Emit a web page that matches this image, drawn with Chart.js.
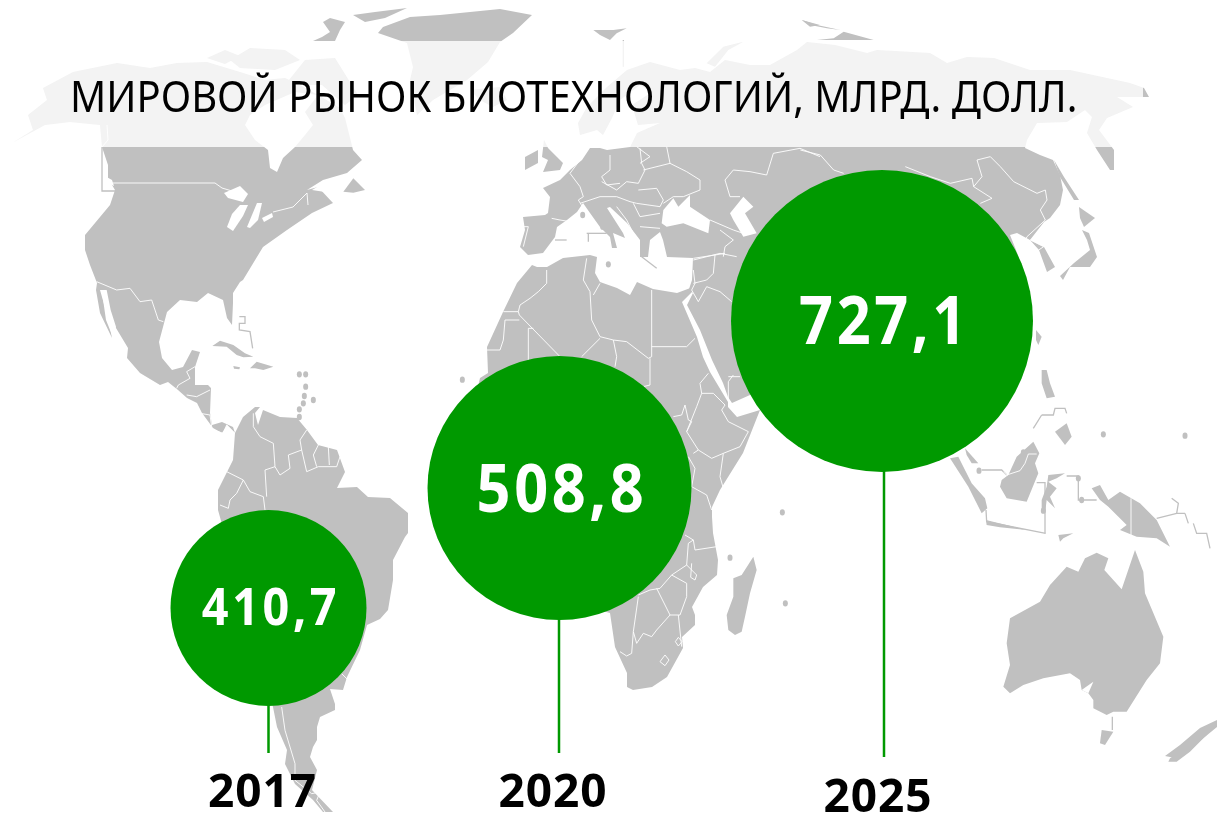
<!DOCTYPE html>
<html>
<head>
<meta charset="utf-8">
<script src="https://cdn.jsdelivr.net/npm/chart.js@4"></script>
<style>
  html, body { margin: 0; padding: 0; background: #fff; overflow: hidden; }
  canvas { display: block; }
</style>
</head>
<body>
<canvas id="chart1" width="1217" height="817"></canvas>
<script>
// chart data
const years = ['2017', '2020', '2025'];
const marketValues = [410.7, 508.8, 727.1];
const titleText = 'МИРОВОЙ РЫНОК БИОТЕХНОЛОГИЙ, МЛРД. ДОЛЛ.';

// where the infographic puts each circle (the picture is not to scale)
const bubbleX = [268.5, 559.5, 882];
const bubbleY = [608, 488, 321];
const bubbleR = [98, 132, 151];
const stemX = [268.5, 559, 884];
const stemEnd = [753, 753, 757];
const yearBase = [807, 807, 812];
const valueFont = [52, 66, 66];
const valueDrop = [17, 24, 23];

// background map. c() turns crop coordinates (3x) into page pixels
function c(ox, oy, flat) {
    const pts = [];
    for (let i = 0; i < flat.length; i += 2) pts.push([ox + flat[i] / 3, oy + flat[i + 1] / 3]);
    return pts;
}
const p = (flat) => c(0, 0, flat.map(v => v * 3));

const land = [
    // north america
    p([12,143, 33,130, 28,115, 47,100, 43,88, 73,72, 117,63, 150,68, 177,63, 207,62, 240,72, 265,80, 285,78, 300,85, 318,95, 340,108, 345,118,
       353,150, 362,160, 347,173, 323,180, 307,190, 318,187, 333,203, 312,213, 287,230, 263,247, 243,280, 240,282, 233,293, 233,303, 232,325,
       227,318, 223,300, 208,293, 197,302, 180,300, 167,312, 159,342, 162,358, 172,370, 183,367, 192,350, 200,352, 195,367, 195,385, 208,385,
       211,388, 210,413, 212,425, 222,422, 233,427, 235,433, 227,425, 222,433, 213,428, 202,413, 197,403, 187,398, 178,390, 168,382, 160,385,
       140,373, 127,358, 128,348, 113,323, 104,290, 100,290, 108,318, 112,338, 100,313, 96,290, 97,283, 90,265, 85,250, 85,235, 110,205, 115,190,
       108,178, 108,165, 102,147, 100,125, 70,122, 45,125]),
    // arctic islands and greenland
    p([285,85, 305,60, 335,58, 358,95, 345,105, 322,85]),
    p([230,60, 250,48, 285,50, 300,60, 275,70, 240,68]),
    p([207,58, 225,50, 240,56, 225,64]),
    p([313,41, 322,37, 330,32, 323,22, 330,18, 345,22, 340,30, 335,41]),
    p([353,15, 375,12, 407,8, 385,18, 365,22]),
    p([378,33, 383,27, 410,17, 440,15, 500,9, 532,15, 513,33, 500,42, 488,62, 467,80, 433,100, 417,115, 410,80, 413,67, 407,43]),
    p([470,90, 500,87, 507,100, 493,107, 480,100]),
    // south america
    p([235,433, 243,417, 255,407, 260,407, 255,413, 258,425, 263,410, 280,417, 297,418, 307,430, 318,445, 337,450, 345,472, 337,488, 357,487, 368,497,
       390,498, 408,513, 408,533, 405,537, 393,560, 393,580, 388,610, 380,619, 367,625, 360,650, 347,677, 343,690, 330,689, 335,704, 335,710, 320,717,
       317,727, 317,740, 313,747, 310,757, 317,770, 312,790, 333,812, 323,812, 313,800, 295,784, 285,764, 287,750, 277,727, 273,707, 218,510, 218,490,
       227,472, 233,460]),
    // africa
    p([537,267, 547,267, 563,258, 590,255, 597,257, 595,273, 600,282, 617,288, 630,295, 637,282, 653,289, 677,293, 693,287, 692,292, 682,302, 697,337,
       703,357, 710,372, 728,402, 728,407, 737,417, 760,410, 743,453, 720,490, 712,507, 712,517, 713,533, 718,560, 717,575, 703,587, 692,607, 695,615,
       695,625, 682,637, 683,648, 667,677, 652,687, 633,690, 627,687, 627,673, 615,647, 610,613, 560,600, 470,550, 470,420, 480,378, 488,373, 487,347,
       503,312, 517,283, 532,265]),
    // eurasia
    p([580,135, 578,123, 587,107, 607,87, 627,70, 650,62, 680,70, 695,68, 710,72, 725,60, 750,65, 770,65, 797,50, 807,42, 835,45, 867,53, 877,50,
       930,53, 947,63, 967,57, 994,58, 1030,70, 1070,70, 1130,83, 1144,88, 1149,97, 1117,97, 1133,107, 1107,118, 1099,130, 1114,150, 1114,170, 1110,170,
       1097,150, 1087,133, 1092,117, 1085,110, 1067,122, 1037,123, 1027,140, 1025,148, 1040,155, 1053,160, 1060,175, 1063,190, 1060,205, 1050,218,
       1044,222, 1030,240, 1017,233, 1010,235, 1018,255, 1022,270, 1010,330, 990,400, 950,440, 880,430, 800,380, 770,385, 750,395, 732,403, 728,397, 723,383, 712,360,
       700,330, 687,305, 693,293, 692,292, 688,292, 692,280, 693,258, 667,257, 663,240, 660,232, 650,240, 648,257, 640,257, 640,240, 627,223, 610,207,
       607,208, 623,233, 625,238, 613,233, 617,248, 612,248, 610,237, 600,227, 590,213, 583,203, 577,212, 567,220, 557,227, 555,237, 543,253, 528,255,
       520,247, 525,230, 523,217, 545,215, 548,213, 550,197, 543,188, 560,180, 570,170, 582,160, 590,148, 600,148, 607,150, 630,147, 637,133, 660,123,
       638,125, 632,105, 652,92, 640,85, 620,100, 612,118, 603,135, 597,130]),
    // korea, japan, sakhalin
    p([1030,240, 1044,247, 1055,267, 1047,272, 1039,250]),
    p([1079,207, 1095,218, 1084,227, 1080,218]),
    p([1082,230, 1089,233, 1097,257, 1090,267, 1070,267, 1063,280, 1060,276, 1074,263, 1090,250, 1087,240]),
    p([1054,160, 1064,177, 1079,200, 1074,200, 1060,177]),
    // british isles
    p([544,140, 548,148, 557,157, 563,163, 560,170, 543,172, 548,160, 542,157]),
    p([525,157, 538,150, 538,163, 525,170]),
    // arctic bits above the band
    c(400, 0, [580,90, 640,90, 680,85, 650,100, 630,120, 600,105]),
    c(400, 0, [1205,60, 1260,75, 1230,80]),
    c(797, 0, [15,60, 60,75, 130,90, 90,85, 40,75]),
    c(797, 0, [60,120, 110,115, 140,95, 230,120]),
    c(400, 0, [920,190, 970,140, 1030,125, 985,150, 945,200]),
    // caribbean
    c(80, 270, [397,228, 420,212, 460,225, 495,250, 520,260, 490,262, 470,255, 440,230]),
    c(80, 270, [530,275, 580,290, 550,300, 525,295, 510,295]),
    c(80, 270, [460,288, 480,292, 478,298, 462,296]),
    // newfoundland
    c(0, 0, [1060,535, 1095,570, 1060,578, 1030,575]),
    // madagascar
    c(600, 500, [460,170, 470,210, 450,280, 435,350, 425,395, 405,405, 385,390, 380,345, 400,290, 400,235, 425,225]),
    // islands of south east asia
    c(900, 300, [150,475, 205,560, 245,640, 262,625, 255,595, 215,550, 175,470]),
    c(900, 300, [195,445, 235,490, 215,490, 200,465]),
    c(900, 300, [258,660, 380,690, 300,682, 260,675]),
    c(900, 300, [305,540, 325,525, 350,470, 400,425, 418,460, 405,490, 415,520, 380,605, 320,595, 300,560]),
    c(900, 300, [425,600, 440,560, 445,525, 495,520, 470,535, 445,545, 470,565, 450,590, 465,625, 440,600, 435,640, 425,630]),
    c(900, 300, [425,210, 440,210, 450,250, 465,290, 440,295, 425,250]),
    c(900, 300, [465,395, 500,370, 515,410, 495,435]),
    c(900, 300, [408,90, 425,110, 415,135, 408,120]),
    c(900, 300, [575,565, 600,555, 625,600, 660,575, 720,610, 770,660, 810,740, 770,715, 710,710, 660,690, 680,675, 625,620, 600,600]),
    c(900, 300, [475,705, 520,700, 490,715, 480,725]),
    // australia, tasmania, new zealand
    c(950, 530, [160,470, 180,405, 170,340, 180,265, 270,215, 300,165, 350,110, 385,125, 405,85, 440,68, 475,85, 463,120, 515,178, 555,60, 580,125, 585,190,
                 640,320, 630,400, 590,450, 530,545, 490,545, 470,555, 430,535, 430,510, 415,490, 395,480, 390,450, 360,430, 280,445, 220,465, 180,490]),
    c(950, 530, [455,600, 490,605, 465,645, 450,640]),
    c(950, 530, [660,685, 720,645, 775,600, 775,610, 720,665, 680,695, 655,695]),
    p([1165,756, 1180,745, 1200,728, 1217,720, 1217,727, 1195,745, 1175,758])
];

const water = [
    // hudson bay
    p([245,125, 255,140, 268,150, 270,168, 277,172, 283,158, 295,147, 305,135, 313,125, 305,112, 318,95, 295,92, 265,105, 250,115]),
    // great lakes
    p([224,193, 240,186, 248,194, 243,202, 228,198]),
    p([227,227, 232,214, 240,205, 248,205, 243,216, 233,231]),
    p([247,227, 257,203, 262,203, 258,220, 250,228]),
    p([262,218, 272,213, 273,217, 264,222]),
    // gulf of st lawrence, vancouver strait
    p([312,190, 325,182, 340,180, 325,192]),
    p([103,175, 112,180, 114,186, 106,182]),
    // black sea, caspian
    c(400, 0, [785,670, 790,630, 820,595, 835,620, 870,585, 870,620, 930,660, 925,700, 850,670, 800,680]),
    c(400, 0, [990,640, 1030,590, 1060,620, 1035,640, 1070,700, 1030,710, 1000,660]),
    // gulf of california
    c(80, 270, [65,60, 80,60, 92,120, 108,170, 100,205, 78,150]),
    // spencer gulf
    c(950, 530, [430,455, 415,490, 395,480])
];

// country borders, thin white lines
const borders = [
    // canada
    p([113,183, 215,183, 222,188, 232,191]),
    p([273,212, 293,207, 307,193, 308,205]),
    p([102,147, 108,140, 107,125]),
    // mexico, central america
    c(80, 270, [50,35, 110,60, 150,55, 180,95, 215,90, 235,150, 250,155]),
    c(80, 270, [345,290, 320,305, 330,325, 295,345, 290,355]),
    c(80, 270, [320,375, 350,380, 390,360]),
    c(80, 270, [360,430, 390,435, 395,470]),
    c(80, 270, [400,480, 430,490, 440,465, 465,490]),
    // south america
    c(80, 270, [520,430, 520,470, 540,500, 580,520, 585,590, 600,615, 630,595, 625,555, 665,540, 660,510, 680,480]),
    c(80, 270, [440,605, 490,630, 510,665, 550,680, 555,720]),
    c(80, 270, [490,630, 470,670, 450,690, 445,715, 420,705]),
    c(80, 270, [585,590, 555,600, 560,680]),
    c(80, 270, [665,540, 680,605, 715,590, 770,590, 780,560]),
    c(80, 270, [715,525, 700,555, 710,590]),
    c(80, 270, [745,530, 748,585]),
    c(170, 537, [335,510, 345,580, 375,680, 375,730, 425,770, 450,765, 440,790, 465,825]),
    c(170, 537, [515,410, 535,430]),
    // europe
    c(400, 0, [630,465, 630,510, 605,530, 620,555, 660,550]),
    c(400, 0, [720,445, 725,490, 735,510, 715,550, 680,545, 650,570, 605,545]),
    c(400, 0, [540,480, 510,520, 540,560, 550,590, 535,600, 550,625]),
    c(400, 0, [710,440, 750,470, 720,490]),
    c(400, 0, [800,440, 810,490, 730,510]),
    c(400, 0, [810,490, 860,515, 900,540, 900,570, 850,590, 820,590, 790,610]),
    c(400, 0, [715,570, 770,565, 790,600, 780,620, 710,610, 690,605, 650,590]),
    c(400, 0, [700,610, 720,650, 780,640]),
    c(400, 0, [650,620, 680,660, 700,700, 690,720]),
    c(400, 0, [720,680, 780,685]),
    c(400, 0, [540,610, 600,590, 650,590]),
    c(400, 0, [455,655, 480,660, 510,665]),
    c(400, 0, [370,680, 385,680, 370,740]),
    // caucasus, near east, russia
    c(400, 0, [930,660, 1000,690, 1030,700]),
    c(400, 0, [960,690, 1000,720, 975,740, 970,770]),
    c(400, 0, [880,780, 960,760, 1010,770]),
    c(400, 0, [975,540, 1000,510, 1050,515, 1100,525, 1120,460, 1200,445, 1260,470]),
    c(400, 0, [975,540, 990,590, 1020,590]),
    c(400, 0, [700,370, 690,440]),
    // central and east asia
    c(797, 0, [10,450, 70,465, 110,510, 140,520]),
    c(797, 0, [325,500, 400,530, 460,550, 525,535, 530,560, 585,595, 550,610]),
    c(797, 0, [540,480, 580,470, 610,500, 650,545, 720,580, 745,570, 750,600, 730,630, 745,660, 690,710, 680,730]),
    c(797, 0, [700,720, 740,740, 725,750]),
    c(797, 0, [540,480, 555,530, 530,560]),
    // africa north
    c(480, 250, [115,185, 120,165, 150,145, 175,125, 200,100, 200,60]),
    c(480, 250, [70,185, 115,185, 118,195, 240,320]),
    c(480, 250, [118,210, 75,210, 70,270, 60,300, 15,300]),
    c(480, 250, [145,235, 145,330]),
    c(480, 250, [145,235, 160,235]),
    c(480, 250, [320,25, 310,90, 330,125, 335,210, 360,260, 400,270, 440,275, 505,325, 515,320, 515,120]),
    c(480, 250, [360,100, 340,135]),
    c(480, 250, [360,265, 305,320]),
    c(480, 250, [400,270, 410,320, 405,350]),
    c(480, 250, [515,290, 620,290, 645,265]),
    c(480, 250, [510,325, 510,405, 490,410]),
    // horn of africa
    c(480, 250, [685,370, 660,400, 665,430, 700,430, 735,465, 725,480, 745,515, 805,545, 780,590, 730,610, 695,625, 655,600, 620,545, 650,470, 665,430]),
    c(480, 250, [580,500, 605,495, 615,465, 625,510, 635,515, 620,545]),
    c(480, 250, [730,610, 720,680, 730,715]),
    c(480, 250, [640,610, 655,600]),
    c(480, 250, [625,620, 645,655, 635,710, 680,735, 695,780]),
    // arabia
    c(480, 250, [640,60, 645,100, 635,120, 655,155, 680,110, 720,125, 755,155]),
    c(480, 250, [680,90, 640,100]),
    c(480, 250, [640,25, 705,15, 700,70, 680,90]),
    c(480, 250, [705,15, 735,10]),
    c(480, 250, [745,380, 780,380]),
    c(480, 250, [745,450, 745,395, 760,375]),
    // southern africa
    c(600, 500, [255,105, 280,120, 285,150, 350,140]),
    c(600, 500, [280,120, 265,130, 260,195, 215,225, 180,265, 150,270, 115,285]),
    c(600, 500, [260,195, 290,225, 285,240, 272,232, 275,190]),
    c(600, 500, [215,225, 260,250, 260,290, 240,345, 210,345, 170,265]),
    c(600, 500, [210,345, 170,390, 155,410, 130,400, 110,430, 100,395, 115,290]),
    c(600, 500, [100,395, 95,460, 80,468, 60,455]),
    c(600, 500, [235,345, 245,440]),
    c(600, 500, [195,465, 207,480, 195,497, 180,485, 195,465]),
    c(600, 500, [235,412, 246,425, 235,438, 226,425, 235,412]),
    // borneo, new guinea
    c(900, 300, [310,515, 320,525, 360,512, 375,490, 385,462, 410,462]),
    c(900, 300, [693,595, 693,705])
];

// thin grey lines in the sea
const seaLines = [
    p([102,147, 102,191, 115,191]),
    c(80, 270, [478,140, 495,140, 495,160, 478,160, 478,180, 510,185, 518,235]),
    c(900, 300, [245,510, 305,510, 320,525]),
    c(900, 300, [410,548, 435,548, 435,700]),
    c(900, 300, [500,528, 535,528, 535,600, 590,600]),
    c(900, 300, [770,655, 830,640, 855,640]),
    c(900, 300, [815,595, 835,610, 830,640]),
    c(900, 300, [437,700, 260,665, 258,630]),
    c(900, 300, [855,640, 865,670]),
    c(900, 300, [880,670, 890,700, 920,700, 930,745]),
    c(900, 300, [425,345, 460,345, 465,325, 495,325, 500,340]),
    c(900, 300, [425,345, 400,385]),
    c(950, 530, [487,560, 487,600]),
    c(400, 0, [670,120, 670,200]),
    c(400, 0, [465,720, 500,720]),
    c(400, 0, [560,700, 620,700]),
    c(400, 0, [565,700, 565,725]),
    c(400, 0, [725,770, 770,805])
];

// small islands shown as round dots: x, y
const dots = [
    ...c(80, 270, [658,313, 677,313, 677,350, 673,378, 670,400, 658,418, 658,441, 700,390, 1147,329]),
    ...c(600, 500, [547,37, 390,173, 556,310]),
    ...c(900, 300, [610,403, 855,407, 237,512, 370,457, 430,632, 535,535, 545,600]),
    ...c(400, 0, [625,793, 595,635, 608,680, 548,645])
];

const mapPlugin = {
    id: 'worldMap',
    beforeDatasetsDraw(chart) {
        const ctx = chart.ctx, sx = chart.scales.x, sy = chart.scales.y;
        const trace = (pts) => {
            ctx.beginPath();
            pts.forEach((pt, i) => {
                const px = sx.getPixelForValue(pt[0]), py = sy.getPixelForValue(pt[1]);
                if (i === 0) ctx.moveTo(px, py); else ctx.lineTo(px, py);
            });
        };
        ctx.save();
        ctx.fillStyle = '#c0c0c0';
        land.forEach(pts => { trace(pts); ctx.closePath(); ctx.fill(); });
        ctx.strokeStyle = '#c0c0c0';
        ctx.lineWidth = 1.3;
        seaLines.forEach(pts => { trace(pts); ctx.stroke(); });
        dots.forEach(pt => {
            ctx.beginPath();
            ctx.ellipse(sx.getPixelForValue(pt[0]), sy.getPixelForValue(pt[1]), 2.5, 3.2, 0, 0, Math.PI * 2);
            ctx.fill();
        });
        ctx.fillStyle = '#ffffff';
        water.forEach(pts => { trace(pts); ctx.closePath(); ctx.fill(); });
        ctx.strokeStyle = 'rgba(255,255,255,0.9)';
        ctx.lineWidth = 1;
        borders.forEach(pts => { trace(pts); ctx.stroke(); });
        // the pale band behind the title
        ctx.fillStyle = 'rgba(255,255,255,0.8)';
        ctx.fillRect(0, 41, 1143, 106);
        ctx.restore();
    }
};

// text squeezed sideways, the original font is narrower than the installed ones
function squeezedText(ctx, text, x, y, squeeze) {
    ctx.save();
    ctx.translate(x, y);
    ctx.scale(squeeze, 1);
    ctx.fillText(text, 0, 0);
    ctx.restore();
}

const textPlugin = {
    id: 'texts',
    afterDatasetsDraw(chart) {
        const ctx = chart.ctx, sx = chart.scales.x, sy = chart.scales.y;
        ctx.save();
        ctx.textBaseline = 'alphabetic';

        ctx.fillStyle = '#000000';
        ctx.textAlign = 'left';
        ctx.font = '43px "Noto Sans"';
        squeezedText(ctx, titleText, 70, 112, 0.93);

        ctx.textAlign = 'center';
        years.forEach((year, i) => {
            ctx.fillStyle = '#000000';
            ctx.font = 'bold 46px "Noto Sans"';
            ctx.letterSpacing = '1px';
            ctx.fillText(year, sx.getPixelForValue(stemX[i]) - 6, sy.getPixelForValue(yearBase[i]));
            ctx.fillStyle = '#ffffff';
            ctx.font = 'bold ' + valueFont[i] + 'px "Noto Sans"';
            ctx.letterSpacing = '4px';
            const label = marketValues[i].toFixed(1).replace('.', ',');
            squeezedText(ctx, label, sx.getPixelForValue(bubbleX[i]) + 2.5, sy.getPixelForValue(bubbleY[i]) + valueDrop[i], 0.9);
        });
        ctx.restore();
    }
};

document.addEventListener("DOMContentLoaded", function() {
    const ctx1 = document.getElementById('chart1').getContext('2d');
    const stems = years.map((year, i) => ({
        type: 'scatter',
        label: year + ' stem',
        data: [{ x: stemX[i], y: bubbleY[i] }, { x: stemX[i], y: stemEnd[i] }],
        showLine: true,
        borderColor: '#009900',
        borderWidth: 2.5,
        pointRadius: 0,
        clip: false,
        order: 2
    }));
    new Chart(ctx1, {
        type: 'bubble',
        data: {
            labels: years,
            datasets: [{
                label: 'Мировой рынок биотехнологий, млрд. долл.',
                data: marketValues.map((v, i) => ({ x: bubbleX[i], y: bubbleY[i], r: bubbleR[i], value: v })),
                backgroundColor: '#009900',
                borderWidth: 0,
                hoverRadius: 0,
                clip: false,
                order: 1
            }].concat(stems)
        },
        options: {
            responsive: false,
            animation: false,
            layout: { padding: 0, autoPadding: false },
            plugins: {
                legend: { display: false },
                title: { display: false },
                tooltip: { enabled: false }
            },
            scales: {
                x: { type: 'linear', display: false, min: 0, max: 1217 },
                y: { type: 'linear', display: false, min: 0, max: 817, reverse: true }
            }
        },
        plugins: [mapPlugin, textPlugin]
    });
});
</script>
</body>
</html>
